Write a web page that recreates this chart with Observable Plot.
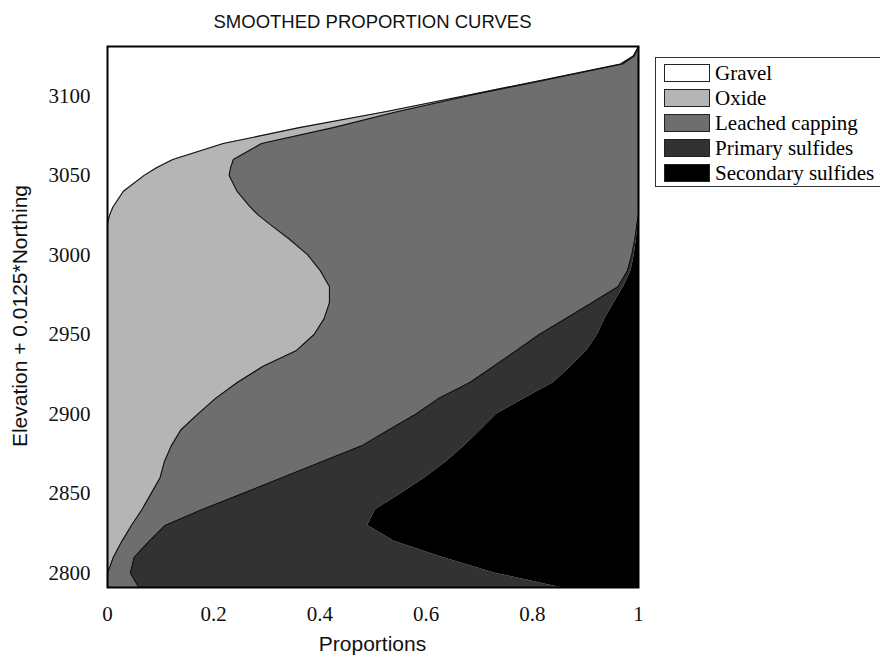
<!DOCTYPE html>
<html>
<head>
<meta charset="utf-8">
<script src="https://cdn.jsdelivr.net/npm/d3@7"></script>
<script src="https://cdn.jsdelivr.net/npm/@observablehq/plot@0.6"></script>
<style>
  body { margin: 0; background: #fff; }
  #wrap { position: relative; width: 880px; height: 656px; overflow: hidden; }
  #chart { position: absolute; left: 0; top: 0; }
  #chart svg text { font-family: "Liberation Serif", "Times New Roman", serif !important; font-size: 21px !important; fill: #111; }
  .title { position: absolute; left: 107px; width: 531px; top: 11px; text-align: center;
           font-family: "Liberation Sans", Arial, sans-serif; font-size: 18.5px; color: #111; }
  .xlabel { position: absolute; left: 107px; width: 531px; top: 632px; text-align: center;
            font-family: "Liberation Sans", Arial, sans-serif; font-size: 21px; color: #111; }
  .ylabel { position: absolute; left: 20px; top: 316px; white-space: nowrap;
            transform: translate(-50%, -50%) rotate(-90deg);
            font-family: "Liberation Sans", Arial, sans-serif; font-size: 21px; color: #111; }
  .legend { position: absolute; left: 655px; top: 57px; width: 240px; height: 130px;
            border: 1px solid #333; box-sizing: border-box; background: #fff; }
  .legend .row { position: absolute; left: 8px; height: 18px; display: flex; align-items: center; }
  .legend .sw { width: 44px; height: 16px; border: 1px solid #222; margin-right: 5px; }
  .legend .lab { font-family: "Liberation Serif", serif; font-size: 21px; color: #000; line-height: 18px; }
</style>
</head>
<body>
<div id="wrap">
  <div id="chart"></div>
  <div class="title">SMOOTHED PROPORTION CURVES</div>
  <div class="xlabel">Proportions</div>
  <div class="ylabel">Elevation + 0.0125*Northing</div>
  <div class="legend" id="legend"></div>
</div>
<script>
// ---- data ----
const seriesNames = ["Gravel", "Oxide", "Leached capping", "Primary sulfides", "Secondary sulfides"];
const seriesColors = ["#ffffff", "#b5b5b5", "#6e6e6e", "#323232", "#000000"];

const elevation = [2791, 2800, 2810, 2820, 2830, 2840, 2850, 2860, 2870, 2880, 2890, 2900, 2910, 2920, 2930, 2940, 2950, 2960, 2970, 2980, 2990, 3000, 3010, 3020, 3025, 3030, 3040, 3050, 3055, 3060, 3070, 3080, 3090, 3100, 3110, 3120, 3125, 3131];

// cumulative right edge of each class (proportion scale)
const gravelEdge = [0, 0, 0, 0, 0, 0, 0, 0, 0, 0, 0, 0, 0, 0, 0, 0, 0, 0, 0, 0, 0, 0, 0, 0, 0.004, 0.010, 0.030, 0.069, 0.093, 0.123, 0.218, 0.361, 0.523, 0.673, 0.820, 0.966, 0.990, 1.000];
const oxideEdge = [0, 0, 0.011, 0.027, 0.045, 0.065, 0.082, 0.099, 0.107, 0.120, 0.138, 0.170, 0.204, 0.245, 0.293, 0.356, 0.389, 0.408, 0.418, 0.418, 0.401, 0.377, 0.342, 0.303, 0.284, 0.269, 0.244, 0.229, 0.232, 0.237, 0.290, 0.425, 0.545, 0.680, 0.825, 0.970, 0.992, 1.000];
const leachedEdge = [0.059, 0.043, 0.050, 0.078, 0.108, 0.178, 0.254, 0.328, 0.403, 0.478, 0.529, 0.581, 0.624, 0.683, 0.727, 0.770, 0.813, 0.863, 0.912, 0.961, 0.979, 0.987, 0.993, 0.997, 1, 1, 1, 1, 1, 1, 1, 1, 1, 1, 1, 1, 1, 1];
const primaryEdge = [0.853, 0.730, 0.630, 0.540, 0.490, 0.505, 0.553, 0.598, 0.638, 0.672, 0.703, 0.733, 0.786, 0.841, 0.873, 0.903, 0.923, 0.937, 0.954, 0.972, 0.986, 0.992, 0.996, 0.999, 1, 1, 1, 1, 1, 1, 1, 1, 1, 1, 1, 1, 1, 1];
const totalEdge = 1;

const xTicks = [0, 0.2, 0.4, 0.6, 0.8, 1];
const xTickLabels = ["0", "0.2", "0.4", "0.6", "0.8", "1"];
const yTicks = [2800, 2850, 2900, 2950, 3000, 3050, 3100];

// ---- build stacked rows (proportion of each class at each elevation) ----
const edges = [gravelEdge, oxideEdge, leachedEdge, primaryEdge];
const rows = [];
seriesNames.forEach((name, s) => {
  elevation.forEach((e, i) => {
    const hi = s < edges.length ? edges[s][i] : totalEdge;
    const lo = s === 0 ? 0 : edges[s - 1][i];
    rows.push({series: name, elev: e, p: Math.max(0, hi - lo)});
  });
});
const lineRows = [];
[gravelEdge, oxideEdge, leachedEdge].forEach((arr, k) => {
  elevation.forEach((e, i) => lineRows.push({edge: k, elev: e, x: arr[i]}));
});

const chart = Plot.plot({
  width: 880,
  height: 656,
  marginLeft: 107,
  marginRight: 242,
  marginTop: 46,
  marginBottom: 69,
  style: {background: "#fff", color: "#111"},
  x: {domain: [0, 1]},
  y: {domain: [2791, 3131]},
  color: {domain: seriesNames, range: seriesColors},
  marks: [
    Plot.areaX(rows, {y: "elev", x: "p", z: "series", fill: "series", curve: "linear"}),
    Plot.line(lineRows, {x: "x", y: "elev", z: "edge", stroke: "#111", strokeWidth: 1.1}),
    Plot.frame({stroke: "#000", strokeWidth: 2}),
    Plot.axisX({ticks: xTicks, tickFormat: (d, i) => xTickLabels[i], tickSize: 0, tickPadding: 19, label: null}),
    Plot.axisY({ticks: yTicks, tickFormat: d => String(d), tickSize: 0, tickPadding: 17, label: null})
  ]
});
document.getElementById("chart").appendChild(chart);

// ---- legend ----
const legend = document.getElementById("legend");
seriesNames.forEach((name, i) => {
  const row = document.createElement("div");
  row.className = "row";
  row.style.top = (6 + i * 25) + "px";
  const sw = document.createElement("div");
  sw.className = "sw";
  sw.style.background = seriesColors[i];
  const lab = document.createElement("span");
  lab.className = "lab";
  lab.textContent = name;
  row.appendChild(sw);
  row.appendChild(lab);
  legend.appendChild(row);
});
</script>
</body>
</html>
